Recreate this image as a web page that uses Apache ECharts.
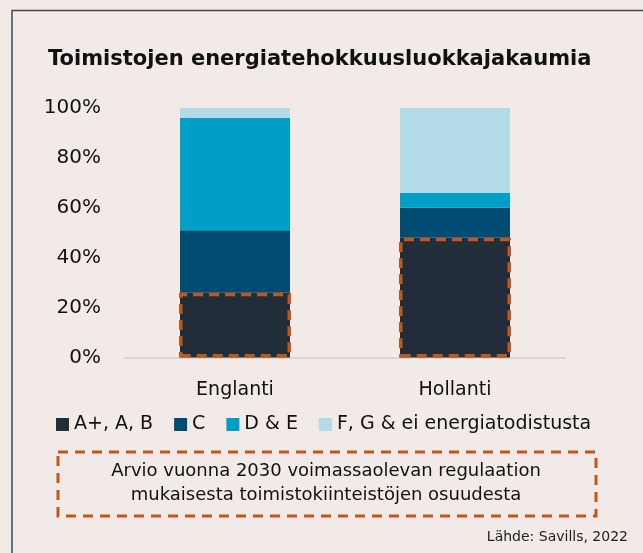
<!DOCTYPE html>
<html><head><meta charset="utf-8">
<script src="https://cdn.jsdelivr.net/npm/echarts@6/dist/echarts.min.js"></script>
<style>html,body{margin:0;padding:0;background:#f1eae7;}#c{width:643px;height:553px;}</style>
</head><body><div id="c"></div>
<script>
const categories = ['Englanti', 'Hollanti'];
const seriesNames = ['A+, A, B', 'C', 'D & E', 'F, G & ei energiatodistusta'];
const valuesAB = [26, 48];
const valuesC = [25, 12];
const valuesDE = [45, 6];
const valuesFG = [4, 34];
const regulated2030 = [26, 48];
const yTicks = [0, 20, 40, 60, 80, 100];
const titleText = 'Toimistojen energiatehokkuusluokkajakaumia';
const noteLines = ['Arvio vuonna 2030 voimassaolevan regulaation', 'mukaisesta toimistokiinteistöjen osuudesta'];
const sourceText = 'Lähde: Savills, 2022';

const colors = ['#212d38', '#024c73', '#009fc7', '#b3dae7'];
const FONT = 'DejaVu Sans';
const chart = echarts.init(document.getElementById('c'), null, {renderer: 'canvas'});
const data = [valuesAB, valuesC, valuesDE, valuesFG];
const stackSeries = seriesNames.map((n, i) => ({
  name: n, type: 'bar', stack: 'all', data: data[i], barWidth: 110,
  itemStyle: {color: colors[i]}, xAxisIndex: 0, yAxisIndex: 0, z: 2
}));
stackSeries.push({
  name: 'regulated', type: 'bar', data: regulated2030, barWidth: 112,
  xAxisIndex: 1, yAxisIndex: 0, z: 5, silent: true,
  itemStyle: {color: 'rgba(0,0,0,0)', borderColor: '#c4561b', borderWidth: 3.5, borderType: [10, 6]}
});
chart.setOption({
  backgroundColor: '#f1eae7',
  animation: false,
  title: {text: titleText, left: 43, top: 44, textStyle: {fontFamily: FONT, fontWeight: 'bold', fontSize: 21, color: '#111'}},
  legend: {
    data: seriesNames, left: 51, top: 410, itemWidth: 13, itemHeight: 13, itemGap: 21,
    icon: 'rect', selectedMode: false,
    textStyle: {fontFamily: FONT, fontSize: 19, color: '#111'}
  },
  grid: {left: 125, right: 78, top: 108, bottom: 195.5, containLabel: false},
  xAxis: [{
    type: 'category', data: categories,
    axisLine: {show: true, lineStyle: {color: '#dcd6d3', width: 2}},
    axisTick: {show: false},
    axisLabel: {fontFamily: FONT, fontSize: 19, color: '#111', margin: 23}
  }, {
    type: 'category', data: categories, show: false
  }],
  yAxis: {
    type: 'value', min: 0, max: 100, interval: 20,
    splitLine: {show: false}, axisLine: {show: false}, axisTick: {show: false},
    axisLabel: {formatter: '{value}%', fontFamily: FONT, fontSize: 20, color: '#111', margin: 24}
  },
  series: stackSeries,
  graphic: [
    {type: 'polyline', shape: {points: [[12, 553], [12, 10.5], [643, 10.5]]}, style: {stroke: '#3c4a55', lineWidth: 1.5, fill: null}},
    {type: 'rect', shape: {x: 58, y: 452, width: 538, height: 64}, style: {fill: null, stroke: '#c4561b', lineWidth: 3, lineDash: [10, 7]}},
    {type: 'text', x: 326, y: 471, style: {text: noteLines[0], fontFamily: FONT, fontSize: 18, fill: '#111', textAlign: 'center', textVerticalAlign: 'middle'}},
    {type: 'text', x: 326, y: 495, style: {text: noteLines[1], fontFamily: FONT, fontSize: 18, fill: '#111', textAlign: 'center', textVerticalAlign: 'middle'}},
    {type: 'text', x: 628, y: 537, style: {text: sourceText, fontFamily: FONT, fontSize: 14, fill: '#222', textAlign: 'right', textVerticalAlign: 'middle'}}
  ]
});
</script></body></html>
